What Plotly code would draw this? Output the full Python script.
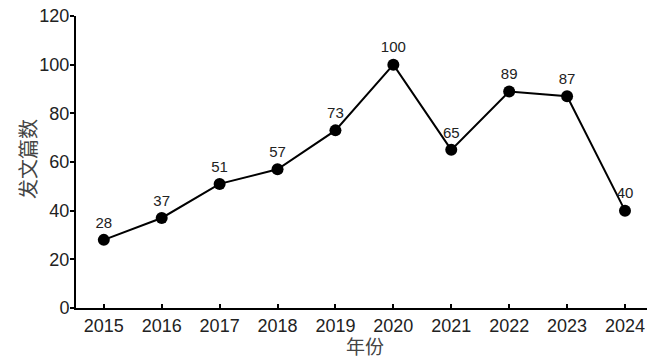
import plotly.graph_objects as go

years = [2015, 2016, 2017, 2018, 2019, 2020, 2021, 2022, 2023, 2024]
counts = [28, 37, 51, 57, 73, 100, 65, 89, 87, 40]
y_ticks = [0, 20, 40, 60, 80, 100, 120]

fig = go.Figure()
fig.add_trace(go.Scatter(
    x=years, y=counts, mode="lines+markers+text",
    text=[str(c) for c in counts], textposition="top center",
    textfont=dict(family="Liberation Sans, Arial, sans-serif", size=15, color="#222"),
    line=dict(color="black", width=2),
    marker=dict(color="black", size=12),
    cliponaxis=False, showlegend=False,
))

fig.update_layout(
    width=657, height=363,
    margin=dict(l=76, r=10, t=16, b=55, autoexpand=False),
    plot_bgcolor="white", paper_bgcolor="white",
)
fig.update_xaxes(
    range=[2014.52, 2024.38], tickvals=years, ticktext=[str(y) for y in years],
    ticks="inside", ticklen=4, tickwidth=2, tickcolor="black",
    showline=True, linecolor="black", linewidth=2, showgrid=False, zeroline=False,
    automargin=False,
    tickfont=dict(family="Liberation Sans, Arial, sans-serif", size=18, color="#222"),
)
fig.update_yaxes(
    range=[0, 120], tickvals=y_ticks,
    ticks="outside", ticklen=4, tickwidth=2, tickcolor="black",
    showline=True, linecolor="black", linewidth=2, showgrid=False, zeroline=False,
    automargin=False, ticklabelstandoff=-3, ticklabeloverflow="allow",
    tickfont=dict(family="Liberation Sans, Arial, sans-serif", size=18, color="#222"),
)
fig.add_annotation(text="年份", xref="paper", yref="paper", x=0.5, y=0,
                   xanchor="center", yanchor="middle", xshift=3, yshift=-37, showarrow=False,
                   font=dict(family="Noto Sans CJK SC", size=19, color="#444"))
fig.add_annotation(text="发文篇数", xref="paper", yref="paper", x=0, y=0.5,
                   xanchor="center", yanchor="middle", xshift=-49, yshift=3, textangle=-90,
                   showarrow=False,
                   font=dict(family="Noto Sans CJK SC", size=20, color="#444"))

# remove the browser's default body margin so the figure sits at the page origin
fig.write_html("out.html", config={"displayModeBar": False},
               post_script="document.body.style.margin='0';")
